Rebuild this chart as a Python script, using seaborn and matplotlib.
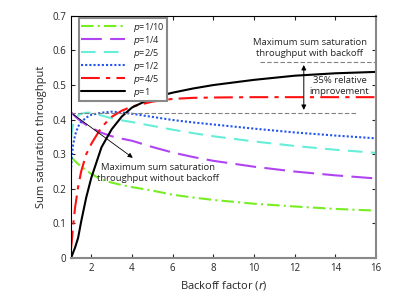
import matplotlib
matplotlib.use("Agg")
import matplotlib.pyplot as plt
import seaborn as sns

# backoff factor grid
r = [1, 1.05, 1.1, 1.2, 1.35, 1.5, 1.75, 2, 2.5, 3, 3.5, 4, 5, 6, 7, 8, 10, 12, 14, 16]

p_1_10 = [0.293, 0.290, 0.286, 0.280, 0.272, 0.265, 0.254, 0.243, 0.227, 0.218, 0.211, 0.205,
          0.195, 0.183, 0.175, 0.168, 0.157, 0.149, 0.142, 0.137]
p_1_4 = [0.422, 0.419, 0.416, 0.410, 0.402, 0.395, 0.385, 0.377, 0.362, 0.352, 0.345, 0.339,
         0.321, 0.305, 0.292, 0.281, 0.264, 0.250, 0.239, 0.230]
p_2_5 = [0.346, 0.370, 0.385, 0.400, 0.412, 0.417, 0.420, 0.420, 0.412, 0.404, 0.398, 0.393,
         0.382, 0.371, 0.361, 0.352, 0.337, 0.324, 0.313, 0.304]
p_1_2 = [0.250, 0.300, 0.325, 0.355, 0.380, 0.393, 0.406, 0.414, 0.420, 0.423, 0.421, 0.417,
         0.408, 0.399, 0.392, 0.386, 0.374, 0.363, 0.354, 0.346]
p_4_5 = [0.025, 0.055, 0.090, 0.145, 0.205, 0.250, 0.300, 0.330, 0.378, 0.408, 0.426, 0.438,
         0.452, 0.460, 0.463, 0.464, 0.465, 0.465, 0.465, 0.465]
p_1 = [0.000, 0.007, 0.015, 0.030, 0.058, 0.105, 0.175, 0.232, 0.320, 0.372, 0.409, 0.435,
       0.463, 0.478, 0.490, 0.500, 0.515, 0.527, 0.534, 0.538]

labels = ["$p$=1/10", "$p$=1/4", "$p$=2/5", "$p$=1/2", "$p$=4/5", "$p$=1"]

max_without = 0.42
max_with = 0.566

sns.set_style("ticks")
plt.rcParams["font.family"] = ["Open Sans", "DejaVu Sans"]
plt.rcParams["mathtext.fontset"] = "dejavusans"

fig = plt.figure(figsize=(4.15, 3.05), dpi=100)
ax = fig.add_axes([0.171, 0.154, 0.735, 0.794])

styles = [
    ("#77ee22", (0, (6, 2, 1, 2))),
    ("#b044f0", (0, (10, 4))),
    ("#66eed8", (0, (7, 4))),
    ("#2255ee", (0, (1, 1))),
    ("#ff1111", (0, (9, 3, 2, 3))),
    ("black", "-"),
]
series = [p_1_10, p_1_4, p_2_5, p_1_2, p_4_5, p_1]
for vals, lab, (c, ls) in zip(series, labels, styles):
    sns.lineplot(x=r, y=vals, ax=ax, color=c, linestyle=ls, linewidth=1.5, label=lab)

# reference levels
ax.plot([1, 15], [max_without, max_without], color="gray", linestyle=(0, (4, 2)), linewidth=0.8)
ax.plot([10.3, 16], [max_with, max_with], color="gray", linestyle=(0, (4, 2)), linewidth=0.8)

ax.annotate("", xy=(12.45, max_with), xytext=(12.45, max_without),
            arrowprops=dict(arrowstyle="<|-|>", color="black", lw=0.7, mutation_scale=7))
ax.annotate("", xy=(4.15, 0.285), xytext=(1, max_without),
            arrowprops=dict(arrowstyle="-|>", color="black", lw=0.6, mutation_scale=7))

ax.text(12.75, 0.607, "Maximum sum saturation\nthroughput with backoff",
        ha="center", va="center", fontsize=6.8, linespacing=1.3)
ax.text(14.2, 0.497, "35% relative\nimprovement",
        ha="center", va="center", fontsize=6.8, linespacing=1.3)
ax.text(5.3, 0.246, "Maximum sum saturation\nthroughput without backoff",
        ha="center", va="center", fontsize=6.8, linespacing=1.3)

ax.set_xlim(1, 16)
ax.set_ylim(0, 0.7)
ax.set_xticks([2, 4, 6, 8, 10, 12, 14, 16])
ax.set_yticks([0, 0.1, 0.2, 0.3, 0.4, 0.5, 0.6, 0.7])
ax.set_yticklabels(["0", "0.1", "0.2", "0.3", "0.4", "0.5", "0.6", "0.7"])
ax.tick_params(direction="in", top=True, right=True, labelsize=7, length=3, width=0.8)
ax.set_xlabel("Backoff factor ($r$)", fontsize=8)
ax.set_ylabel("Sum saturation throughput", fontsize=8)

for side in ["bottom", "right"]:
    ax.spines[side].set_color("#888888")
    ax.spines[side].set_linewidth(1.5)
for side in ["top", "left"]:
    ax.spines[side].set_color("black")
    ax.spines[side].set_linewidth(0.8)

leg = ax.legend(loc="upper left", bbox_to_anchor=(0.025, 0.99), fontsize=6.6,
                handlelength=4.8, frameon=True, fancybox=False, framealpha=1,
                borderaxespad=0.0, borderpad=0.25, labelspacing=0.0, handletextpad=0.9)
leg.get_frame().set_edgecolor("#888888")
leg.get_frame().set_linewidth(1.5)

fig.savefig("out.png", dpi=100)
